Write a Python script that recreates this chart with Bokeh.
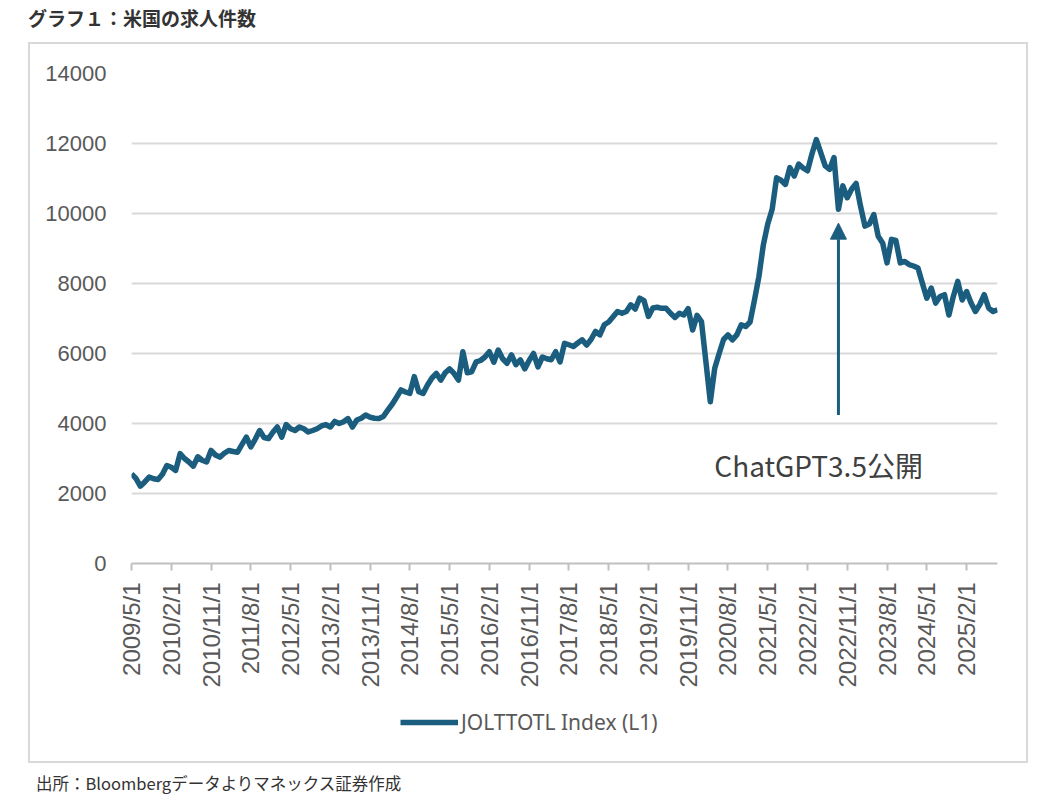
from bokeh.plotting import figure
from bokeh.models import (Range1d, FixedTicker, Legend, LegendItem, Arrow, NormalHead,
                          Label, Div, ColumnDataSource)
from bokeh.layouts import column
from bokeh.embed import file_html
from bokeh.resources import INLINE
import math

# ---- data (monthly, from 2009/5) ----
v2009 = [2560, 2430, 2210, 2330, 2470, 2420, 2400, 2550]
v2010 = [2800, 2750, 2660, 3140, 3000, 2900, 2780, 3050, 2950, 2900, 3230, 3100]
v2011 = [3040, 3150, 3230, 3200, 3180, 3400, 3610, 3330, 3550, 3800, 3600, 3570]
v2012 = [3750, 3900, 3610, 3970, 3850, 3800, 3900, 3850, 3760, 3800, 3850, 3930]
v2013 = [3970, 3900, 4060, 4000, 4050, 4140, 3900, 4100, 4150, 4240, 4180, 4150]
v2014 = [4140, 4200, 4380, 4550, 4750, 4960, 4900, 4860, 5340, 4910, 4860, 5100]
v2015 = [5300, 5430, 5240, 5450, 5560, 5430, 5240, 6050, 5450, 5480, 5760, 5800]
v2016 = [5900, 6050, 5750, 6100, 5850, 5720, 5960, 5680, 5820, 5560, 5800, 6000]
v2017 = [5620, 5900, 5850, 5820, 6050, 5760, 6290, 6250, 6200, 6300, 6390, 6240]
v2018 = [6400, 6630, 6530, 6820, 6900, 7050, 7200, 7150, 7200, 7390, 7270, 7580]
v2019 = [7510, 7060, 7300, 7320, 7290, 7290, 7150, 7030, 7150, 7100, 7280, 6670]
v2020 = [7090, 6910, 5770, 4620, 5580, 6000, 6400, 6530, 6390, 6530, 6820, 6770]
v2021 = [6900, 7530, 8200, 9100, 9700, 10120, 11020, 10950, 10830, 11310, 11070, 11410]
v2022 = [11300, 11220, 11700, 12110, 11740, 11360, 11260, 11600, 10120, 10790, 10450, 10700]
v2023 = [10860, 10210, 9640, 9700, 9970, 9350, 9160, 8590, 9260, 9230, 8590, 8630]
v2024 = [8540, 8500, 8440, 8010, 7580, 7870, 7440, 7630, 7680, 7100, 7630, 8060]
v2025 = [7530, 7770, 7450, 7200, 7400, 7680, 7300, 7200, 7250]

tick_labels = ["2009/5/1", "2010/2/1", "2010/11/1", "2011/8/1", "2012/5/1", "2013/2/1",
               "2013/11/1", "2014/8/1", "2015/5/1", "2016/2/1", "2016/11/1", "2017/8/1",
               "2018/5/1", "2019/2/1", "2019/11/1", "2020/8/1", "2021/5/1", "2022/2/1",
               "2022/11/1", "2023/8/1", "2024/5/1", "2025/2/1"]
tick_step = 9
series_name = "JOLTTOTL Index (L1)"
annot_text = "ChatGPT3.5公開"
annot_month = 160          # arrow at 2022/9 index
arrow_from, arrow_to = 4245, 9725
label_x, label_y = 131.9, 2810

values = (v2009 + v2010 + v2011 + v2012 + v2013 + v2014 + v2015 + v2016 + v2017 +
          v2018 + v2019 + v2020 + v2021 + v2022 + v2023 + v2024 + v2025)
months = list(range(len(values)))

LINE = "#1b5d7e"
GRID = "#d9d9d9"
TXT = "#595959"
BORDER = "2px solid #d9d9d9"

src = ColumnDataSource(dict(m=months, v=values))

p = figure(width=1000, height=648, output_backend="svg", toolbar_location=None,
           x_range=Range1d(0, len(values) - 1), y_range=Range1d(0, 14000),
           min_border_left=101, min_border_right=33, min_border_top=29, min_border_bottom=129)
p.outline_line_color = None
p.background_fill_color = "white"
p.border_fill_color = "white"
p.styles = {"border-top": BORDER, "border-left": BORDER, "border-right": BORDER,
            "box-sizing": "border-box"}
p.margin = (0, 0, 0, 28)

r = p.line("m", "v", source=src, line_color=LINE, line_width=5.5, line_join="round")

# axes
p.xaxis.ticker = FixedTicker(ticks=[i * tick_step for i in range(len(tick_labels))])
p.xaxis.major_label_overrides = {i * tick_step: lab for i, lab in enumerate(tick_labels)}
p.xaxis.major_label_orientation = math.pi / 2
p.xaxis.major_label_text_font = "Liberation Sans"
p.xaxis.major_label_text_font_size = "24px"
p.xaxis.major_label_text_color = TXT
p.xaxis.axis_line_color = "#bfbfbf"
p.xaxis.axis_line_width = 2
p.xaxis.major_tick_line_color = "#bfbfbf"
p.xaxis.major_tick_line_width = 2
p.xaxis.major_tick_out = 7
p.xaxis.major_tick_in = 0
p.xaxis.minor_tick_line_color = None
p.xaxis.major_label_standoff = 12

p.yaxis.ticker = FixedTicker(ticks=list(range(0, 14001, 2000)))
p.yaxis.major_label_text_font = "Liberation Sans"
p.yaxis.major_label_text_font_size = "22px"
p.yaxis.major_label_text_color = TXT
p.yaxis.axis_line_color = None
p.yaxis.major_tick_line_color = None
p.yaxis.minor_tick_line_color = None
p.yaxis.major_label_standoff = 19

p.xgrid.grid_line_color = None
p.ygrid.grid_line_color = GRID
p.ygrid.grid_line_width = 2

# annotation
p.add_layout(Arrow(end=NormalHead(size=16, fill_color=LINE, line_color=LINE),
                   x_start=annot_month, y_start=arrow_from, x_end=annot_month, y_end=arrow_to,
                   line_color=LINE, line_width=3))
p.add_layout(Label(x=label_x, y=label_y, text=annot_text, text_baseline="middle",
                   text_font="Noto Sans CJK JP", text_font_size="28px", text_color="#404040"))

# legend strip (second figure, same box)
p2 = figure(width=1000, height=73, output_backend="svg", toolbar_location=None,
            x_range=Range1d(0, 1), y_range=Range1d(0, 1),
            x_axis_location=None, y_axis_location=None,
            min_border_left=0, min_border_right=0, min_border_top=0, min_border_bottom=0)
p2.outline_line_color = None
p2.xgrid.grid_line_color = None
p2.ygrid.grid_line_color = None
p2.styles = {"border-bottom": BORDER, "border-left": BORDER, "border-right": BORDER,
             "box-sizing": "border-box"}
p2.margin = (0, 0, 0, 28)
r2 = p2.line(x=[-5.0], y=[-5.0], line_color=LINE, line_width=5.5)
legend = Legend(items=[LegendItem(label=series_name, renderers=[r2])],
                location=(269, 27), orientation="horizontal",
                border_line_alpha=0, background_fill_alpha=0,
                glyph_width=58, glyph_height=20, label_text_font="Noto Sans",
                label_text_font_size="21px", label_text_color=TXT,
                padding=0, margin=0, label_standoff=3)
p2.add_layout(legend)

title = Div(text="グラフ１：米国の求人件数", width=999, height=42, margin=(0, 0, 0, 28),
            styles={"font-family": "Noto Sans CJK JP", "font-size": "19px", "font-weight": "bold",
                    "color": "#333333", "line-height": "36px"})
source = Div(text="出所：Bloombergデータよりマネックス証券作成", width=999, height=30,
             margin=(10, 0, 0, 36),
             styles={"font-family": "Noto Sans CJK JP", "font-size": "16.5px",
                     "color": "#333333", "line-height": "20px"})

lay = column(title, p, p2, source)
open("out.html", "w").write(file_html(lay, INLINE))
